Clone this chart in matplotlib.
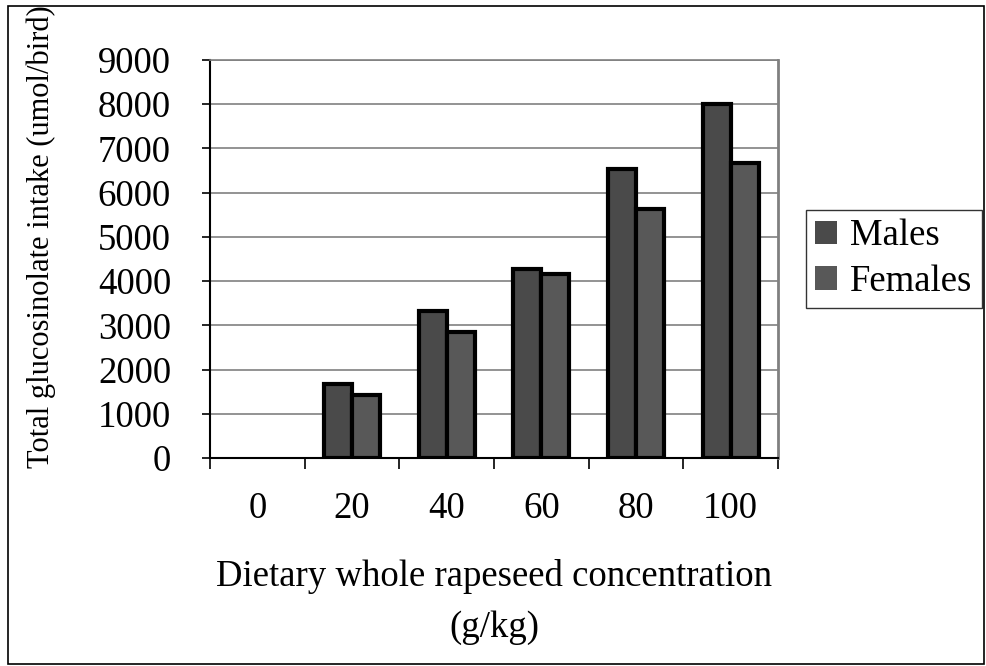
import matplotlib
matplotlib.use('Agg')
import matplotlib.pyplot as plt
import numpy as np
from matplotlib.patches import Rectangle
from matplotlib.ticker import FixedLocator

plt.rcParams['font.family'] = ['Liberation Serif', 'DejaVu Serif']

categories = ['0', '20', '40', '60', '80', '100']
males = [0, 1670, 3320, 4270, 6540, 8000]
females = [0, 1420, 2850, 4160, 5630, 6680]
y_ticks = [0, 1000, 2000, 3000, 4000, 5000, 6000, 7000, 8000, 9000]

fs = 26.5

fig = plt.figure(figsize=(9.86, 6.66), dpi=100)
ax = fig.add_axes([210 / 986, 1 - 458 / 666, 568 / 986, 398 / 666])

x = np.arange(len(categories))
w = 0.295
# no outline for empty bars (value 0)
ax.bar(x - w / 2, males, w, color='#4a4a4a', edgecolor='black',
       linewidth=[3 if v else 0 for v in males], label='Males', zorder=3)
ax.bar(x + w / 2, females, w, color='#585858', edgecolor='black',
       linewidth=[3 if v else 0 for v in females], label='Females', zorder=3)

ax.set_xlim(-0.5, len(categories) - 0.5)
ax.set_ylim(0, 9000)
ax.set_yticks(y_ticks)
ax.set_yticklabels([str(v) for v in y_ticks], fontsize=fs)
ax.yaxis.grid(True, color='#808080', linewidth=1.2, zorder=0)

ax.set_xticks(x)
ax.set_xticklabels(categories, fontsize=fs)
ax.tick_params(axis='x', which='major', length=0, pad=24)
ax.xaxis.set_minor_locator(FixedLocator(np.arange(-0.5, len(categories), 1.0)))
ax.tick_params(axis='x', which='minor', length=8, width=1.2, direction='out')
ax.tick_params(axis='y', length=6, width=1.2, direction='out', pad=22)

ax.spines['left'].set_linewidth(1.5)
ax.spines['bottom'].set_linewidth(1.5)
ax.spines['right'].set_color('#808080')
ax.spines['right'].set_linewidth(2)
ax.spines['top'].set_color('#808080')
ax.spines['top'].set_linewidth(1.2)

ax.set_xlabel('Dietary whole rapeseed concentration\n(g/kg)', fontsize=fs,
              labelpad=24, linespacing=1.6)
fig.text(41 / 986, 1 - 237 / 666, 'Total glucosinolate intake (umol/bird)',
         rotation=90, ha='center', va='center', fontsize=22)

leg = ax.legend(loc='center left', bbox_to_anchor=(806 / 986, 1 - 259 / 666),
                bbox_transform=fig.transFigure, fontsize=fs, frameon=True,
                fancybox=False, edgecolor='black', handlelength=0.6,
                handleheight=0.6, handletextpad=0.35, borderpad=0.25,
                labelspacing=0.3, borderaxespad=0)
leg.get_frame().set_linewidth(1)

fig.patches.append(Rectangle((8 / 986, 2 / 666), 976 / 986, 658 / 666,
                             transform=fig.transFigure, fill=False,
                             edgecolor='black', linewidth=1.2))

fig.savefig('out.png', dpi=100)
